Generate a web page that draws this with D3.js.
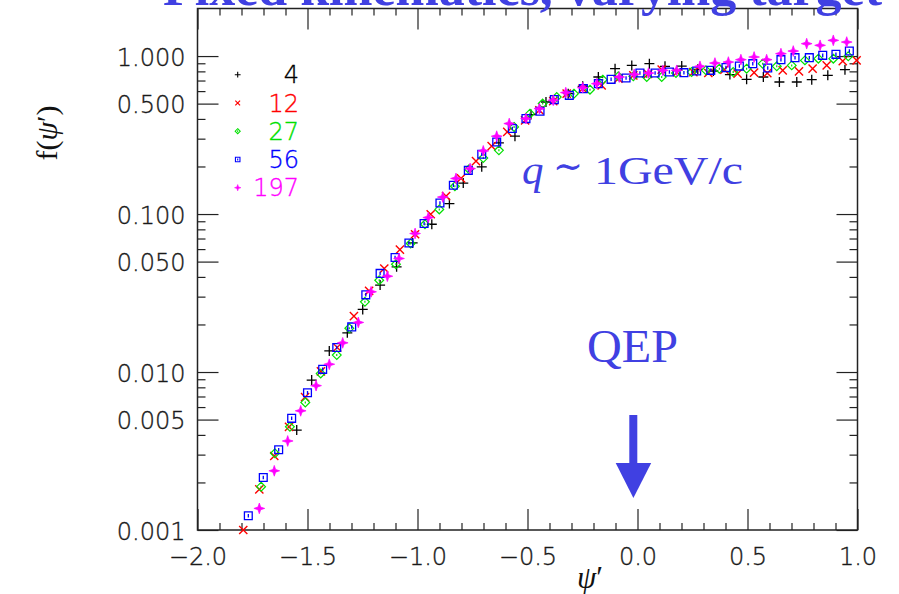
<!DOCTYPE html>
<html>
<head>
<meta charset="utf-8">
<script src="https://cdn.jsdelivr.net/npm/d3@7"></script>
<style>
  html, body { margin: 0; padding: 0; background: #ffffff; }
  svg { display: block; }
</style>
</head>
<body>
<svg id="chart" width="899" height="594"></svg>
<script>
// ---------------- DATA ----------------
const xMajorTicks = [-2.0, -1.5, -1.0, -0.5, 0.0, 0.5, 1.0];
const yMajorTicks = [1.0, 0.5, 0.1, 0.05, 0.01, 0.005, 0.001];

const legendLabels = ["4", "12", "27", "56", "197"];
const seriesColors = ["#000000", "#ff0000", "#00e000", "#0000ff", "#ff00ff"];

// A = 4 (black +)
const psi4 = [-1.549, -1.481, -1.401, -1.319, -1.249, -1.170, -1.095, -1.022, -0.935, -0.855, -0.792, -0.708, -0.630, -0.557, -0.484, -0.416, -0.315, -0.249, -0.178, -0.102, -0.026, 0.054, 0.125, 0.201, 0.274, 0.345, 0.420, 0.496, 0.572, 0.645, 0.724, 0.792, 0.865, 0.943];
const f4   = [0.00429, 0.00889, 0.0136, 0.0177, 0.0249, 0.0355, 0.0463, 0.0656, 0.0862, 0.1165, 0.157, 0.199, 0.282, 0.311, 0.426, 0.512, 0.578, 0.643, 0.737, 0.832, 0.873, 0.895, 0.861, 0.864, 0.824, 0.804, 0.763, 0.712, 0.737, 0.685, 0.685, 0.709, 0.755, 0.820];

// A = 12 (red x)
const psi12 = [-1.792, -1.719, -1.651, -1.584, -1.511, -1.439, -1.365, -1.289, -1.220, -1.151, -1.080, -1.011, -0.940, -0.870, -0.802, -0.734, -0.663, -0.592, -0.511, -0.446, -0.383, -0.322, -0.249, -0.163, -0.087, -0.019, 0.048, 0.110, 0.180, 0.254, 0.322, 0.395, 0.455, 0.530, 0.590, 0.660, 0.734, 0.796, 0.860, 0.933, 0.996];
const f12   = [0.00100, 0.00181, 0.00294, 0.00450, 0.00694, 0.0101, 0.0143, 0.0226, 0.0326, 0.0452, 0.0596, 0.0745, 0.0997, 0.130, 0.168, 0.216, 0.269, 0.331, 0.392, 0.454, 0.519, 0.578, 0.622, 0.653, 0.719, 0.755, 0.770, 0.820, 0.790, 0.792, 0.781, 0.820, 0.774, 0.785, 0.780, 0.812, 0.800, 0.832, 0.873, 0.930, 0.939];

// A = 27 (green diamond)
const psi27 = [-1.711, -1.648, -1.580, -1.510, -1.440, -1.367, -1.310, -1.239, -1.174, -1.098, -1.031, -0.966, -0.901, -0.830, -0.766, -0.701, -0.630, -0.561, -0.489, -0.431, -0.367, -0.289, -0.216, -0.158, -0.087, -0.019, 0.042, 0.110, 0.175, 0.246, 0.311, 0.372, 0.435, 0.496, 0.569, 0.633, 0.701, 0.761, 0.822, 0.890, 0.958];
const f27   = [0.00188, 0.00306, 0.00450, 0.00642, 0.00980, 0.0128, 0.0189, 0.0278, 0.0381, 0.0481, 0.0651, 0.0862, 0.107, 0.150, 0.192, 0.226, 0.253, 0.356, 0.432, 0.500, 0.550, 0.578, 0.613, 0.709, 0.744, 0.744, 0.737, 0.737, 0.781, 0.792, 0.812, 0.832, 0.792, 0.832, 0.895, 0.861, 0.873, 0.939, 0.963, 0.963, 0.996];

// A = 56 (blue square)
const psi56 = [-1.769, -1.701, -1.631, -1.572, -1.500, -1.431, -1.367, -1.299, -1.235, -1.170, -1.102, -1.039, -0.970, -0.898, -0.837, -0.769, -0.708, -0.640, -0.569, -0.507, -0.443, -0.378, -0.310, -0.246, -0.178, -0.120, -0.052, 0.011, 0.080, 0.145, 0.211, 0.269, 0.333, 0.402, 0.463, 0.524, 0.592, 0.652, 0.716, 0.781, 0.842, 0.902, 0.963];
const f56   = [0.00123, 0.00215, 0.00322, 0.00509, 0.00739, 0.0104, 0.0143, 0.0193, 0.0308, 0.0421, 0.0531, 0.0656, 0.0871, 0.1175, 0.152, 0.189, 0.239, 0.286, 0.348, 0.402, 0.447, 0.530, 0.564, 0.622, 0.669, 0.712, 0.726, 0.781, 0.781, 0.792, 0.785, 0.804, 0.812, 0.845, 0.864, 0.895, 0.840, 0.949, 0.977, 0.977, 1.010, 1.025, 1.076];

// A = 197 (magenta star)
const psi197 = [-1.719, -1.651, -1.590, -1.531, -1.461, -1.401, -1.340, -1.269, -1.211, -1.137, -1.084, -1.011, -0.951, -0.885, -0.825, -0.761, -0.701, -0.640, -0.583, -0.507, -0.446, -0.383, -0.326, -0.249, -0.185, -0.083, -0.015, 0.050, 0.115, 0.178, 0.284, 0.352, 0.413, 0.470, 0.530, 0.587, 0.652, 0.708, 0.769, 0.830, 0.890, 0.951];
const f197   = [0.00137, 0.00237, 0.00366, 0.00568, 0.00820, 0.0112, 0.0153, 0.0206, 0.0322, 0.0404, 0.0523, 0.0753, 0.0950, 0.128, 0.168, 0.194, 0.251, 0.311, 0.374, 0.402, 0.465, 0.525, 0.587, 0.631, 0.669, 0.737, 0.766, 0.780, 0.812, 0.812, 0.861, 0.903, 0.916, 0.949, 0.986, 0.949, 1.036, 1.076, 1.198, 1.169, 1.257, 1.226];

// ---------------- CHART ----------------
(function () {
const svg = d3.select("#chart");
const BLUE = "#4040e2";
const AXIS = "#222222";
const TICKFONT = "'DejaVu Sans', 'Liberation Sans', sans-serif";
const TICKWEIGHT = 300;
const TICKCOL = "#1a1a1a";
const SERIF = "'Liberation Serif', 'Times New Roman', serif";

const pLeft = 197.5, pRight = 857.5, pTop = 8.5, pBottom = 530;
const x = d3.scaleLinear().domain([-2, 1]).range([pLeft, pRight]);
const y = d3.scaleLog().domain([0.001, 2]).range([pBottom, pTop]);

// minor ticks
const xMinor = d3.range(-19, 10).map(i => i / 10).filter(v => Math.abs(v * 2 - Math.round(v * 2)) > 1e-6);
const yMinor = [];
[-3, -2, -1, 0].forEach(k => {
  [2, 3, 4, 6, 7, 8, 9].forEach(m => {
    const v = m * Math.pow(10, k);
    if (v < 2) yMinor.push(v);
  });
});

function styleAxis(g) {
  g.select(".domain").remove();
  g.selectAll(".tick line").attr("stroke", AXIS).attr("stroke-width", 1.2);
}
function styleText(g) {
  g.selectAll("text").attr("font-family", TICKFONT).attr("font-weight", TICKWEIGHT)
    .attr("font-size", 24).attr("fill", TICKCOL)
    .attr("stroke", TICKCOL).attr("stroke-width", 0.35);
}

// bottom
svg.append("g").attr("transform", `translate(0,${pBottom})`)
  .call(d3.axisBottom(x).tickValues(xMajorTicks).tickSizeInner(-21).tickSizeOuter(0)
    .tickPadding(18).tickFormat(d3.format(".1f")))
  .call(styleAxis)
  .call(styleText);
svg.append("g").attr("transform", `translate(0,${pBottom})`)
  .call(d3.axisBottom(x).tickValues(xMinor).tickSizeInner(-7).tickSizeOuter(0).tickFormat(""))
  .call(styleAxis);
// top
svg.append("g").attr("transform", `translate(0,${pTop})`)
  .call(d3.axisTop(x).tickValues(xMajorTicks).tickSizeInner(-21).tickSizeOuter(0).tickFormat(""))
  .call(styleAxis);
svg.append("g").attr("transform", `translate(0,${pTop})`)
  .call(d3.axisTop(x).tickValues(xMinor).tickSizeInner(-7).tickSizeOuter(0).tickFormat(""))
  .call(styleAxis);
// left
svg.append("g").attr("transform", `translate(${pLeft},0)`)
  .call(d3.axisLeft(y).tickValues(yMajorTicks).tickSizeInner(-21).tickSizeOuter(0)
    .tickPadding(12).tickFormat(d3.format(".3f")))
  .call(styleAxis)
  .call(styleText)
  .call(g => g.selectAll("text").attr("dy", "0.38em"));
svg.append("g").attr("transform", `translate(${pLeft},0)`)
  .call(d3.axisLeft(y).tickValues(yMinor).tickSizeInner(-8).tickSizeOuter(0).tickFormat(""))
  .call(styleAxis);
// right
svg.append("g").attr("transform", `translate(${pRight},0)`)
  .call(d3.axisRight(y).tickValues(yMajorTicks).tickSizeInner(-21).tickSizeOuter(0).tickFormat(""))
  .call(styleAxis);
svg.append("g").attr("transform", `translate(${pRight},0)`)
  .call(d3.axisRight(y).tickValues(yMinor).tickSizeInner(-8).tickSizeOuter(0).tickFormat(""))
  .call(styleAxis);

// frame
svg.append("rect").attr("x", pLeft).attr("y", pTop).attr("width", pRight - pLeft).attr("height", pBottom - pTop)
  .attr("fill", "none").attr("stroke", AXIS).attr("stroke-width", 1.5);

// axis titles
const xt = svg.append("text").attr("x", 590).attr("y", 588).attr("text-anchor", "middle")
  .attr("font-family", SERIF).attr("font-size", 31).attr("fill", "#111");
xt.append("tspan").attr("font-style", "italic").text("ψ");
xt.append("tspan").text("′");

const yt = svg.append("text").attr("transform", "translate(57,133) rotate(-90)").attr("text-anchor", "middle")
  .attr("font-family", SERIF).attr("font-size", 30).attr("fill", "#111");
yt.append("tspan").text("f(");
yt.append("tspan").attr("font-style", "italic").text("ψ");
yt.append("tspan").text("′)");

// markers
const markerDefs = [
  { path: s => `M${-s},0H${s}M0,${-s}V${s}`, fill: "none", sw: 1.3, size: 5.0 },
  { path: s => `M${-s},${-s}L${s},${s}M${-s},${s}L${s},${-s}`, fill: "none", sw: 1.4, size: 4.1 },
  { path: s => `M0,${-s}L${s},0L0,${s}L${-s},0ZM0,-1V1`, fill: "none", sw: 1.2, size: 4.4 },
  { path: s => `M${-s},${-s}H${s}V${s}H${-s}ZM0,${-s * 0.45}V${s * 0.45}`, fill: "none", sw: 1.3, size: 3.9 },
  { path: s => { const c = s * 0.25; return `M0,${-s}L${c},${-c}L${s},0L${c},${c}L0,${s}L${-c},${c}L${-s},0L${-c},${-c}Z`; }, fill: "fill", sw: 0.7, size: 5.4 }
];

const seriesList = [
  { psi: psi4, f: f4 },
  { psi: psi12, f: f12 },
  { psi: psi27, f: f27 },
  { psi: psi56, f: f56 },
  { psi: psi197, f: f197 }
];

const plot = svg.append("g");
seriesList.forEach((s, i) => {
  const m = markerDefs[i];
  const col = seriesColors[i];
  const pts = s.psi.map((p, j) => ({ p, v: s.f[j] }));
  plot.append("g").selectAll("path").data(pts).join("path")
    .attr("transform", d => `translate(${x(d.p)},${y(d.v)})`)
    .attr("d", m.path(m.size))
    .attr("fill", m.fill === "fill" ? col : "none")
    .attr("stroke", col)
    .attr("stroke-width", m.sw);
});

// legend
const legY0 = 74.7, legDy = 28.25;
legendLabels.forEach((lab, i) => {
  const m = markerDefs[i];
  const col = seriesColors[i];
  const yy = legY0 + i * legDy;
  svg.append("path").attr("transform", `translate(237.7,${yy})`)
    .attr("d", m.path(m.size * 0.58))
    .attr("fill", m.fill === "fill" ? col : "none")
    .attr("stroke", col).attr("stroke-width", m.sw * 0.85);
  svg.append("text").attr("x", 299).attr("y", yy).attr("dy", "0.36em").attr("text-anchor", "end")
    .attr("font-family", TICKFONT).attr("font-weight", TICKWEIGHT)
    .attr("font-size", 24).attr("fill", col).attr("stroke", col).attr("stroke-width", 0.35).text(lab);
});

// title (cut off at top, as in the reference)
svg.append("text").attr("x", 163).attr("y", 5)
  .attr("font-family", SERIF).attr("font-weight", "bold")
  .attr("font-size", 52).attr("fill", BLUE)
  .attr("textLength", 719).attr("lengthAdjust", "spacingAndGlyphs")
  .text("Fixed kinematics, varying target");

// q ~ 1GeV/c annotation
svg.append("text").attr("x", 522).attr("y", 184)
  .attr("font-family", SERIF).attr("font-style", "italic").attr("font-size", 43).attr("fill", BLUE)
  .text("q");
svg.append("text").attr("x", 553).attr("y", 179)
  .attr("font-family", "'DejaVu Serif', serif").attr("font-size", 38).attr("fill", BLUE)
  .attr("textLength", 30).attr("lengthAdjust", "spacingAndGlyphs")
  .text("∼");
svg.append("text").attr("x", 594).attr("y", 184)
  .attr("font-family", SERIF).attr("font-size", 41).attr("fill", BLUE)
  .attr("textLength", 149).attr("lengthAdjust", "spacingAndGlyphs")
  .text("1GeV/c");

// QEP
svg.append("text").attr("x", 587).attr("y", 362)
  .attr("font-family", SERIF).attr("font-size", 46).attr("fill", BLUE)
  .attr("textLength", 91).attr("lengthAdjust", "spacingAndGlyphs")
  .text("QEP");

// arrow
svg.append("rect").attr("x", 629.3).attr("y", 415).attr("width", 8).attr("height", 50).attr("fill", BLUE);
svg.append("path").attr("d", "M615.7,463L651.2,463L633.4,498Z").attr("fill", BLUE);
})();
</script>
</body>
</html>
